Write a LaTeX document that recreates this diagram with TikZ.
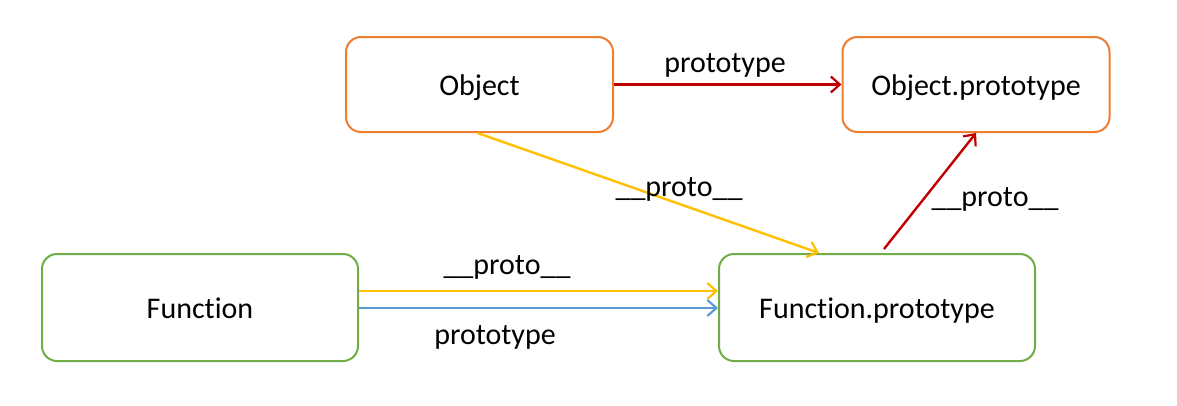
\documentclass[tikz,border=0pt]{standalone}
\usepackage{fontspec}
\setmainfont{Carlito}[Ligatures=NoCommon]
\usetikzlibrary{arrows.meta,calc}
\definecolor{boxorange}{HTML}{ED7D31}
\definecolor{boxgreen}{HTML}{70AD47}
\definecolor{arrred}{HTML}{C00000}
\definecolor{arryellow}{HTML}{FFC000}
\definecolor{arrblue}{HTML}{5B9BD5}
\begin{document}
\begin{tikzpicture}[x=1pt,y=-1pt,
  every node/.style={font=\fontsize{30}{36}\selectfont, text=black, text height=27pt, text depth=6pt},
  objbox/.style={draw=boxorange, line width=2pt, rounded corners=15pt, fill=white,
    minimum width=267pt, minimum height=95pt, inner sep=0pt},
  funbox/.style={draw=boxgreen, line width=2pt, rounded corners=15pt, fill=white,
    minimum width=316pt, minimum height=107pt, inner sep=0pt},
  conn/.style={line width=2.4pt, -{Straight Barb[length=9pt,width=16pt,line width=2.2pt]}},
  lbl/.style={inner sep=0pt}
]
\useasboundingbox (0,0) rectangle (1177,405);
\fill[white] (0,0) rectangle (1177,405);
\node[objbox] (obj) at (479.5,84.5) {Object};
\node[objbox] (op) at (976,84.5) {Object.prototype};
\node[funbox] (fn) at (200,307.5) {Function};
\node[funbox] (fp) at (877,307.5) {Function.prototype};
% Object -> Object.prototype
\draw[conn, arrred] (obj.east) -- (op.west);
\node[lbl] (l1) at (725,62) {prototype};
% Object -> Function.prototype
\draw[conn, arryellow] ([xshift=-2pt]obj.south) -- ([xshift=-58pt]fp.north);
\node[lbl] (l2) at (679,186) {\_\_proto\_\_};
% Function.prototype -> Object.prototype
\draw[conn, arrred] ([xshift=7pt,yshift=4pt]fp.north) -- (op.south);
\node[lbl] (l3) at (995,196) {\_\_proto\_\_};
% Function -> Function.prototype
\draw[conn, arryellow] ([yshift=16.5pt]fn.east) -- ([yshift=16.5pt]fp.west);
\node[lbl] (l4) at (507,264) {\_\_proto\_\_};
\draw[conn, arrblue] ([yshift=-0.5pt]fn.east) -- ([yshift=-0.5pt]fp.west);
\node[lbl] (l5) at (495,334) {prototype};
\end{tikzpicture}
\end{document}
